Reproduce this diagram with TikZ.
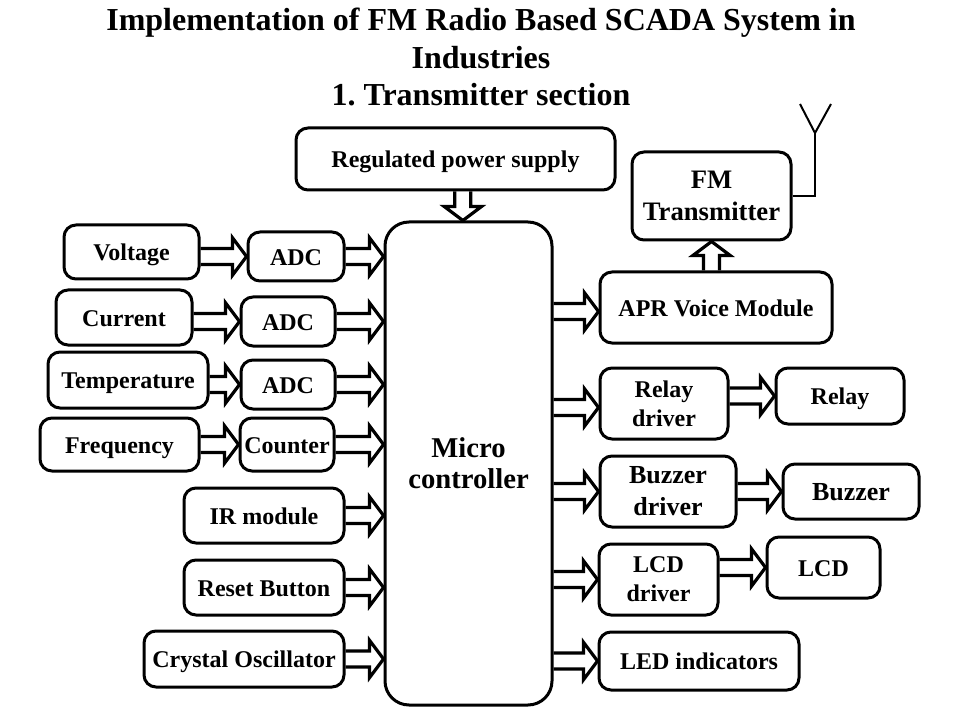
\documentclass[tikz,border=0pt]{standalone}
\usepackage{fontspec}
\setmainfont{Liberation Serif}
\usetikzlibrary{calc}
\frenchspacing
\tikzset{
  box/.style={draw, line width=2.25pt, rounded corners=9pt, inner sep=0pt,
    font=\fontsize{18}{21.75}\selectfont\bfseries},
  two/.style={align=center},
  one/.style={text height=13pt, text depth=0pt},
  fatline/.style={draw, line width=2.4pt, line join=miter},
  antline/.style={draw, line width=1.5pt},
}
\newcommand\bx[7][]{%
  \node[box,#1,minimum width={(#5-#3)*0.75pt},minimum height={(#6-#4)*0.75pt}]
    (#2) at ({(#3+#5)/2},{(#4+#6)/2}) {#7};}
\newcommand\fat[2]{%
  \path (#2) coordinate (fatT);
  \path (#1) coordinate (fatS);
  \coordinate (fatH) at ($(fatT)!10.5pt!(fatS)$);
  \draw[fatline] ($(fatS)!6pt!90:(fatT)$) -- ($(fatH)!6pt!-90:(fatS)$) -- ($(fatH)!14pt!-90:(fatS)$)
    -- (fatT) -- ($(fatH)!14pt!90:(fatS)$) -- ($(fatH)!6pt!90:(fatS)$) -- ($(fatS)!6pt!-90:(fatT)$);}
\begin{document}
\begin{tikzpicture}[x=0.75pt,y=-0.75pt]
\useasboundingbox[fill=white] (0,0) rectangle (960,720);
\node[align=center, inner sep=0pt, font=\fontsize{24}{28}\selectfont\bfseries] (title) at (481,57)
  {Implementation of FM Radio Based SCADA System in\\Industries\\1. Transmitter section};
% boxes
\bx[one]{ps}{296}{128}{615}{190}{Regulated power supply}
\bx[two,font=\fontsize{20}{24}\selectfont\bfseries]{fm}{632}{152}{791}{240}{FM\\Transmitter}
\bx[two,rounded corners=18pt,font=\fontsize{21.5}{23.5}\selectfont\bfseries]{mc}{385}{222}{552}{705}{Micro\\controller}
\bx[one]{apr}{600}{272}{832}{343}{APR Voice Module}
\bx[two]{rd}{600}{368}{728}{439}{Relay\\driver}
\bx[one]{rl}{776}{368}{904}{424}{Relay}
\bx[two,font=\fontsize{19.5}{24}\selectfont\bfseries]{bd}{600}{456}{736}{527}{Buzzer\\driver}
\bx[one,text height=14pt,font=\fontsize{19.5}{24}\selectfont\bfseries]{bz}{783}{464}{919}{519}{Buzzer}
\bx[two]{ld}{599}{544}{718}{615}{LCD\\driver}
\bx[one]{lcd}{767}{537}{880}{598}{LCD}
\bx[one]{led}{599}{632}{799}{690}{LED indicators}
\bx[one]{v}{64}{225}{199}{279}{Voltage}
\bx[one]{a1}{248}{232}{344}{281}{ADC}
\bx[one]{c}{56}{290}{192}{345}{Current}
\bx[one]{a2}{241}{297}{335}{346}{ADC}
\bx[one]{t}{48}{352}{208}{408}{Temperature}
\bx[one]{a3}{241}{360}{335}{409}{ADC}
\bx[one]{f}{40}{418}{199}{471}{Frequency}
\bx[one]{cn}{240}{418}{334}{471}{Counter}
\bx[one]{ir}{184}{488}{344}{543}{IR module}
\bx[one]{rb}{184}{560}{344}{615}{Reset Button}
\bx[one]{co}{144}{631}{344}{687}{Crystal Oscillator}
% antenna
\coordinate (ant) at (815,133);
\coordinate (antL) at (800,104);
\coordinate (antR) at (831,104);
\draw[antline] (fm.east) -| (ant);
\draw[antline] (antL) -- (ant) -- (antR);
% arrows
\fat{[xshift=5.5pt]ps.south}{[xshift=5.5pt]ps.south |- mc.north}
\fat{apr.north -| fm.south}{fm.south}
\fat{v.east |- a1.west}{a1.west}
\fat{c.east |- a2.west}{a2.west}
\fat{t.east |- a3.west}{a3.west}
\fat{f.east |- cn.west}{cn.west}
\fat{a1.east}{mc.west |- a1.east}
\fat{a2.east}{mc.west |- a2.east}
\fat{a3.east}{mc.west |- a3.east}
\fat{cn.east}{mc.west |- cn.east}
\fat{ir.east}{mc.west |- ir.east}
\fat{rb.east}{mc.west |- rb.east}
\fat{co.east}{mc.west |- co.east}
\fat{[yshift=-3pt]mc.east |- apr.west}{[yshift=-3pt]apr.west}
\fat{[yshift=-3pt]mc.east |- rd.west}{[yshift=-3pt]rd.west}
\fat{mc.east |- bd.west}{bd.west}
\fat{mc.east |- ld.west}{ld.west}
\fat{mc.east |- led.west}{led.west}
\fat{rd.east |- rl.west}{rl.west}
\fat{bd.east |- bz.west}{bz.west}
\fat{ld.east |- lcd.west}{lcd.west}
\end{tikzpicture}
\end{document}
